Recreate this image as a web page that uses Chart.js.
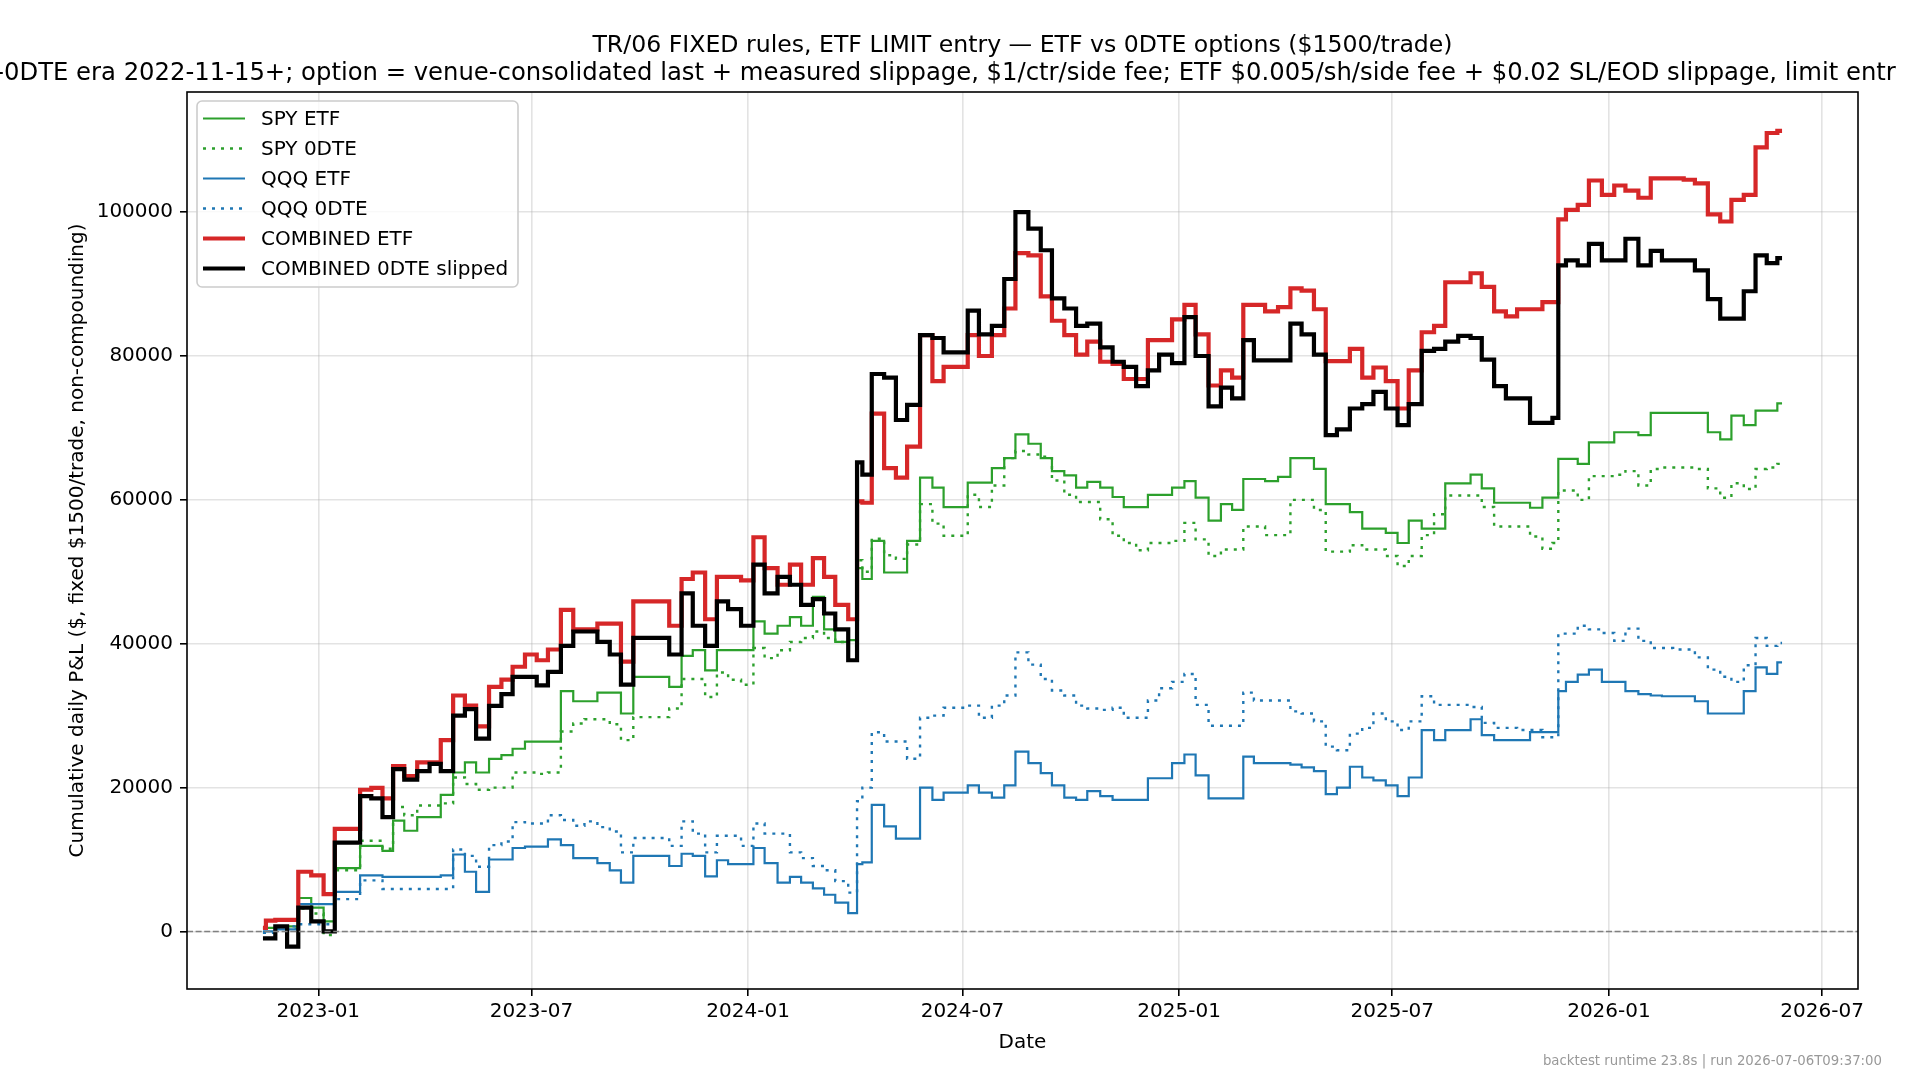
<!DOCTYPE html>
<html>
<head>
<meta charset="utf-8">
<script src="https://cdn.jsdelivr.net/npm/chart.js@4.4.1/dist/chart.umd.min.js"></script>
<style>
  html, body { margin: 0; padding: 0; background: #ffffff; }
  canvas { display: block; }
</style>
</head>
<body>
<canvas id="pnl-chart" width="1920" height="1083" style="width:1920px;height:1083px"></canvas>
<script>
// sample dates (~every 10 days, extra points at the two big jumps)
const dates = [
  '2022-11-15', '2022-11-20', '2022-12-01', '2022-12-10', '2022-12-20',
  '2023-01-01', '2023-01-10', '2023-01-20', '2023-02-01', '2023-02-10', '2023-02-20',
  '2023-03-01', '2023-03-10', '2023-03-20', '2023-04-01', '2023-04-10', '2023-04-20',
  '2023-05-01', '2023-05-10', '2023-05-20', '2023-06-01', '2023-06-10', '2023-06-20',
  '2023-07-01', '2023-07-10', '2023-07-20', '2023-08-01', '2023-08-10', '2023-08-20',
  '2023-09-01', '2023-09-10', '2023-09-20', '2023-10-01', '2023-10-10', '2023-10-20',
  '2023-11-01', '2023-11-10', '2023-11-20', '2023-12-01', '2023-12-10', '2023-12-20',
  '2024-01-01', '2024-01-10', '2024-01-20', '2024-02-01', '2024-02-10', '2024-02-20',
  '2024-03-01', '2024-03-10', '2024-03-20', '2024-04-01', '2024-04-04', '2024-04-10', '2024-04-20',
  '2024-05-01', '2024-05-10', '2024-05-20', '2024-06-01', '2024-06-10', '2024-06-20',
  '2024-07-01', '2024-07-10', '2024-07-20', '2024-08-01', '2024-08-10', '2024-08-20',
  '2024-09-01', '2024-09-10', '2024-09-20', '2024-10-01', '2024-10-10', '2024-10-20',
  '2024-11-01', '2024-11-10', '2024-11-20', '2024-12-01', '2024-12-10', '2024-12-20',
  '2025-01-01', '2025-01-10', '2025-01-20', '2025-02-01', '2025-02-10', '2025-02-20',
  '2025-03-01', '2025-03-10', '2025-03-20', '2025-04-01', '2025-04-10', '2025-04-20',
  '2025-05-01', '2025-05-10', '2025-05-20', '2025-06-01', '2025-06-10', '2025-06-20',
  '2025-07-01', '2025-07-10', '2025-07-20', '2025-08-01', '2025-08-10', '2025-08-20',
  '2025-09-01', '2025-09-10', '2025-09-20', '2025-10-01', '2025-10-10', '2025-10-20',
  '2025-11-01', '2025-11-10', '2025-11-18', '2025-11-20', '2025-12-01', '2025-12-10', '2025-12-20',
  '2026-01-01', '2026-01-10', '2026-01-20', '2026-02-01', '2026-02-10', '2026-02-20',
  '2026-03-01', '2026-03-10', '2026-03-20', '2026-04-01', '2026-04-10', '2026-04-20',
  '2026-05-01', '2026-05-10', '2026-05-20', '2026-05-28'
];

const spyEtf = [
  500, 500, 700, 700, 4650,
  3300, 1400, 8800, 8800, 11900, 11900, 11200, 15400, 14000, 15900, 15900, 19000,
  22100, 23500, 22100, 24000, 24500, 25400, 26400, 26400, 26400, 33400, 32000, 32000,
  33200, 33200, 30300, 35400, 35400, 35400, 34000, 38300, 39100, 36300, 39100, 39100,
  39100, 43100, 41400, 42500, 43700, 42500, 46500, 42000, 40250, 40500, 50500, 49000, 54300,
  49900, 49900, 54300, 63100, 61700, 59000, 59000, 62400, 62400, 64400, 65800, 69100,
  67800, 65800, 64000, 63400, 61700, 62500, 61700, 60400, 59000, 59000, 60700, 60700,
  61700, 62600, 60300, 57100, 59400, 58600, 62900, 62900, 62600, 63200, 65800, 65800,
  64300, 59400, 59400, 58300, 56000, 56000, 55400, 54000, 57100, 56000, 56000, 62300,
  62300, 63500, 61600, 59600, 59600, 59600, 58900, 60300, 60300, 65700, 65700, 65000, 68000,
  68000, 69400, 69400, 69000, 72100, 72100, 72100, 72100, 72100, 69400, 68400, 71700,
  70400, 72400, 72400, 73400
];

const spy0dte = [
  -200, -200, 400, 400, 3200,
  2500, -500, 8500, 8500, 12600, 12600, 11500, 17300, 16150, 17500, 17500, 17800,
  21400, 20500, 19700, 20000, 20000, 22100, 22100, 21900, 22100, 27800, 28900, 29500,
  29500, 28800, 26600, 29800, 29800, 29800, 31000, 35100, 35100, 32600, 36000, 35000,
  34300, 39400, 38000, 39100, 40250, 40800, 41700, 40800, 40250, 39700, 51600, 50000, 54600,
  52300, 51800, 53800, 59400, 56700, 55000, 55000, 60700, 59000, 62000, 65800, 66800,
  66300, 66000, 62700, 60700, 59700, 59700, 57300, 55000, 54000, 53000, 54000, 54000,
  54300, 56800, 54500, 52200, 53100, 53100, 56300, 56300, 55100, 55100, 60000, 60000,
  58600, 52800, 52800, 53700, 53100, 53100, 52200, 50800, 52200, 55100, 58000, 60600,
  60600, 60600, 59000, 56300, 56300, 56300, 54900, 53200, 54000, 61300, 61300, 60000, 63300,
  63300, 63500, 64000, 62000, 64300, 64500, 64500, 64500, 64300, 61600, 60300, 62300,
  61500, 64300, 64500, 65000
];

const qqqEtf = [
  0, 0, 300, 300, 3800,
  3800, 3800, 5500, 5500, 7800, 7800, 7600, 7600, 7600, 7600, 7600, 7800,
  10700, 8300, 5500, 10000, 10000, 11600, 11800, 11800, 12800, 12000, 10200, 10200,
  9500, 8500, 6800, 10500, 10500, 10500, 9100, 10800, 10500, 7650, 9900, 9350,
  9350, 11600, 9500, 6800, 7600, 6800, 6000, 5100, 4000, 2550, 9350, 9600, 17600,
  14600, 12900, 12900, 20000, 18300, 19300, 19300, 20300, 19300, 18600, 20300, 25000,
  23400, 22000, 20300, 18600, 18300, 19500, 18800, 18300, 18300, 18300, 21300, 21300,
  23400, 24600, 21700, 18500, 18500, 18500, 24300, 23400, 23400, 23400, 23200, 22800,
  22300, 19100, 20000, 22900, 21400, 21000, 20300, 18800, 21400, 28000, 26600, 28000,
  28000, 29500, 27300, 26600, 26600, 26600, 27700, 27700, 27700, 33400, 34700, 35700, 36400,
  34700, 34700, 33400, 33000, 32800, 32700, 32700, 32700, 32000, 30300, 30300, 30300,
  33400, 36700, 35800, 37400
];

const qqq0dte = [
  -200, -200, 700, 700, 1000,
  1000, 1000, 4500, 4500, 7100, 7100, 5900, 5900, 5900, 5900, 5900, 5900,
  11400, 10500, 9000, 12000, 12500, 15200, 15000, 15000, 16150, 15500, 14700, 15300,
  14500, 13900, 11000, 13000, 13000, 13000, 11900, 15300, 13600, 11000, 13300, 13300,
  11900, 15000, 13600, 13600, 11000, 10200, 9100, 8500, 7000, 5400, 18100, 20000, 27700,
  26400, 26400, 24000, 29700, 30000, 31100, 31100, 31400, 29700, 31400, 32800, 38800,
  37100, 35100, 33500, 32800, 31400, 31000, 30800, 31100, 29700, 29700, 32100, 33800,
  34700, 35800, 31500, 28600, 28600, 28600, 33200, 32100, 32100, 32100, 30600, 30300,
  29200, 25700, 25200, 27500, 28300, 30300, 29200, 28000, 29200, 32700, 31500, 31500,
  31500, 31200, 29000, 28300, 28300, 28000, 28000, 27000, 27000, 41400, 41400, 42500, 42000,
  41500, 40400, 42100, 40400, 39400, 39400, 39200, 39200, 38100, 36400, 35400, 34700,
  37000, 40800, 39700, 40100
];

const combinedEtf = [
  500, 1500, 1600, 1600, 8300,
  7800, 5200, 14250, 14250, 19700, 19950, 18500, 23000, 21600, 23500, 23500, 26600,
  32800, 31400, 28500, 34000, 35000, 36800, 38500, 37700, 39200, 44700, 42000, 42000,
  42800, 42800, 37500, 45900, 45900, 45900, 42500, 49000, 49900, 43400, 49300, 49300,
  48800, 54800, 50500, 48200, 51000, 48200, 51900, 49300, 45400, 43400, 59800, 59600, 72000,
  64400, 63100, 67400, 82900, 76500, 78500, 78500, 82900, 80000, 82900, 86600, 94300,
  94000, 88300, 84900, 82900, 80200, 82000, 79200, 78900, 76800, 76800, 82200, 82200,
  85100, 87100, 83000, 75900, 78000, 77000, 87100, 87100, 86200, 86800, 89400, 89100,
  86500, 79300, 79300, 81000, 77000, 78400, 76500, 72700, 78000, 83300, 84200, 90250,
  90250, 91500, 89600, 86200, 85500, 86500, 86500, 87500, 87500, 99000, 100300, 101000, 104400,
  102400, 103700, 103000, 102000, 104700, 104700, 104700, 104500, 104000, 99700, 98700, 101700,
  102400, 109000, 111000, 111300
];

const combined0dte = [
  -950, -950, 700, -2100, 3300,
  1400, 0, 12350, 12350, 18800, 18500, 15900, 22560, 21100, 22300, 23300, 22300,
  30000, 30900, 26800, 31350, 33000, 35400, 35400, 34200, 36100, 39700, 41700, 41700,
  40250, 38500, 34300, 40800, 40800, 40800, 38500, 47000, 42500, 39700, 45900, 44800,
  42500, 51000, 47000, 49300, 48200, 45400, 46200, 44200, 42000, 37700, 65200, 63500, 77500,
  77000, 71100, 73200, 82900, 82500, 80500, 80500, 86300, 83000, 84200, 90700, 100000,
  97700, 94700, 88000, 86600, 84200, 84500, 81200, 79200, 78500, 75800, 78000, 80200,
  79000, 85400, 80000, 73000, 75600, 74100, 82200, 79400, 79400, 79400, 84500, 83000,
  80200, 69000, 69800, 72700, 73300, 75000, 72700, 70400, 73300, 80700, 81000, 82000,
  82800, 82500, 79500, 75800, 74100, 74100, 70700, 70700, 71400, 92600, 93300, 92600, 95600,
  93300, 93300, 96300, 92600, 94600, 93300, 93300, 93300, 91900, 87900, 85200, 85200,
  89000, 94000, 92900, 93600
];

const xTickLabels = ['2023-01', '2023-07', '2024-01', '2024-07', '2025-01', '2025-07', '2026-01', '2026-07'];
const yTickValues = [0, 20000, 40000, 60000, 80000, 100000];

const titleLine = 'TR/06 FIXED rules, ETF LIMIT entry \u2014 ETF vs 0DTE options ($1500/trade)';
const subtitleLine = '0DTE era 2022-11-15+; option = venue-consolidated last + measured slippage, $1/ctr/side fee; ETF $0.005/sh/side fee + $0.02 SL/EOD slippage, limit entr';
const footerText = 'backtest runtime 23.8s | run 2026-07-06T09:37:00';

const DAY = 86400000;
const toMs = s => Date.parse(s + 'T00:00:00Z');
const FONT = '"DejaVu Sans", "Liberation Sans", sans-serif';

for (const s of [spyEtf, spy0dte, qqqEtf, qqq0dte, combinedEtf, combined0dte]) {
  if (s.length !== dates.length) {
    throw new Error('series length ' + s.length + ' != dates ' + dates.length);
  }
}

function series(values) {
  return values.map((v, i) => ({ x: toMs(dates[i]), y: v }));
}

const GREEN = '#2ca02c';
const BLUE = '#1f77b4';
const RED = '#d62728';

const datasets = [
  { label: 'SPY ETF', data: series(spyEtf), borderColor: GREEN, borderWidth: 2.2, borderDash: [], order: 6 },
  { label: 'SPY 0DTE', data: series(spy0dte), borderColor: GREEN, borderWidth: 2.4, borderDash: [3, 6], order: 5 },
  { label: 'QQQ ETF', data: series(qqqEtf), borderColor: BLUE, borderWidth: 2.2, borderDash: [], order: 4 },
  { label: 'QQQ 0DTE', data: series(qqq0dte), borderColor: BLUE, borderWidth: 2.4, borderDash: [3, 6], order: 3 },
  { label: 'COMBINED ETF', data: series(combinedEtf), borderColor: RED, borderWidth: 4.2, borderDash: [], order: 2 },
  { label: 'COMBINED 0DTE slipped', data: series(combined0dte), borderColor: '#000000', borderWidth: 4.2, borderDash: [], order: 1 },
];
for (const ds of datasets) {
  ds.pointRadius = 0;
  ds.fill = false;
  ds.tension = 0;
  ds.stepped = 'middle';
  ds.borderCapStyle = 'butt';
  ds.borderJoinStyle = 'miter';
}

// matplotlib-ish decorations: frame, zero line, legend, titles, footer
const decorations = {
  id: 'decorations',
  afterDatasetsDraw(chart) {
    const { ctx, chartArea } = chart;
    const y0 = chart.scales.y.getPixelForValue(0);
    ctx.save();
    ctx.strokeStyle = '#808080';
    ctx.lineWidth = 1.6;
    ctx.setLineDash([6, 2.6]);
    ctx.beginPath();
    ctx.moveTo(chartArea.left, y0);
    ctx.lineTo(chartArea.right, y0);
    ctx.stroke();
    ctx.restore();
  },
  afterDraw(chart) {
    const { ctx, chartArea } = chart;
    const midX = (chartArea.left + chartArea.right) / 2;
    ctx.save();

    // frame
    ctx.strokeStyle = '#000000';
    ctx.lineWidth = 1.6;
    ctx.strokeRect(chartArea.left, chartArea.top, chartArea.right - chartArea.left, chartArea.bottom - chartArea.top);

    // legend
    const lx = 197, ly = 101, lw = 321, lh = 186, r = 5;
    ctx.beginPath();
    ctx.moveTo(lx + r, ly);
    ctx.arcTo(lx + lw, ly, lx + lw, ly + lh, r);
    ctx.arcTo(lx + lw, ly + lh, lx, ly + lh, r);
    ctx.arcTo(lx, ly + lh, lx, ly, r);
    ctx.arcTo(lx, ly, lx + lw, ly, r);
    ctx.closePath();
    ctx.fillStyle = 'rgba(255,255,255,0.8)';
    ctx.fill();
    ctx.strokeStyle = '#cccccc';
    ctx.lineWidth = 1.6;
    ctx.stroke();

    ctx.font = '20px ' + FONT;
    ctx.textBaseline = 'middle';
    ctx.textAlign = 'left';
    chart.data.datasets.forEach((ds, i) => {
      const yy = 118.5 + i * 30;
      ctx.strokeStyle = ds.borderColor;
      ctx.lineWidth = ds.borderWidth;
      ctx.setLineDash(ds.borderDash);
      ctx.lineCap = 'butt';
      ctx.beginPath();
      ctx.moveTo(203, yy);
      ctx.lineTo(245, yy);
      ctx.stroke();
      ctx.setLineDash([]);
      ctx.fillStyle = '#000000';
      ctx.fillText(ds.label, 261, yy + 1);
    });

    // axis titles
    ctx.fillStyle = '#000000';
    ctx.textAlign = 'center';
    ctx.fillText('Date', midX, 1042.5);
    ctx.save();
    ctx.translate(78, (chartArea.top + chartArea.bottom) / 2);
    ctx.rotate(-Math.PI / 2);
    ctx.fillText('Cumulative daily P&L ($, fixed $1500/trade, non-compounding)', 0, 0);
    ctx.restore();

    // two-line title; the second line is wider than the figure and runs off both edges
    ctx.font = '23.6px ' + FONT;
    ctx.textAlign = 'center';
    ctx.fillText(titleLine, midX, 45.5);
    ctx.font = '24.3px ' + FONT;
    ctx.textAlign = 'left';
    const dash = ctx.measureText('-').width;
    ctx.fillText('-' + subtitleLine, 4 - dash, 73.5);

    // footer
    ctx.font = '13.3px ' + FONT;
    ctx.fillStyle = '#999999';
    ctx.textAlign = 'right';
    ctx.fillText(footerText, 1882, 1061.5);
    ctx.restore();
  }
};

Chart.defaults.font.family = FONT;
Chart.defaults.color = '#000000';

const ctx = document.getElementById('pnl-chart').getContext('2d');
const gridColor = 'rgba(176,176,176,0.35)';

new Chart(ctx, {
  type: 'line',
  data: { datasets: datasets },
  plugins: [decorations],
  options: {
    responsive: false,
    animation: false,
    devicePixelRatio: 1,
    parsing: false,
    layout: { padding: { top: 92, right: 62, left: 0, bottom: 0 } },
    plugins: {
      legend: { display: false },
      title: { display: false },
      tooltip: { enabled: false },
    },
    scales: {
      x: {
        type: 'linear',
        min: toMs(dates[0]) - 64.5 * DAY,
        max: toMs(dates[dates.length - 1]) + 64.5 * DAY,
        afterFit: function (scale) { scale.height = 94; },
        afterBuildTicks: function (scale) {
          scale.ticks = xTickLabels.map(l => ({ value: toMs(l + '-01') }));
        },
        ticks: {
          autoSkip: false,
          maxRotation: 0,
          padding: 4,
          font: { size: 20 },
          callback: function (value) {
            return new Date(value).toISOString().slice(0, 7);
          }
        },
        grid: { color: gridColor, lineWidth: 1.6, tickColor: '#000000', tickLength: 7, tickWidth: 1.6 },
        border: { display: false },
      },
      y: {
        type: 'linear',
        min: -8000,
        max: 116700,
        afterFit: function (scale) { scale.width = 187; },
        afterBuildTicks: function (scale) {
          scale.ticks = yTickValues.map(v => ({ value: v }));
        },
        ticks: {
          padding: 7,
          font: { size: 20 },
          callback: function (value) { return String(value); }
        },
        grid: { color: gridColor, lineWidth: 1.6, tickColor: '#000000', tickLength: 7, tickWidth: 1.6 },
        border: { display: false },
      }
    }
  }
});
</script>
</body>
</html>
